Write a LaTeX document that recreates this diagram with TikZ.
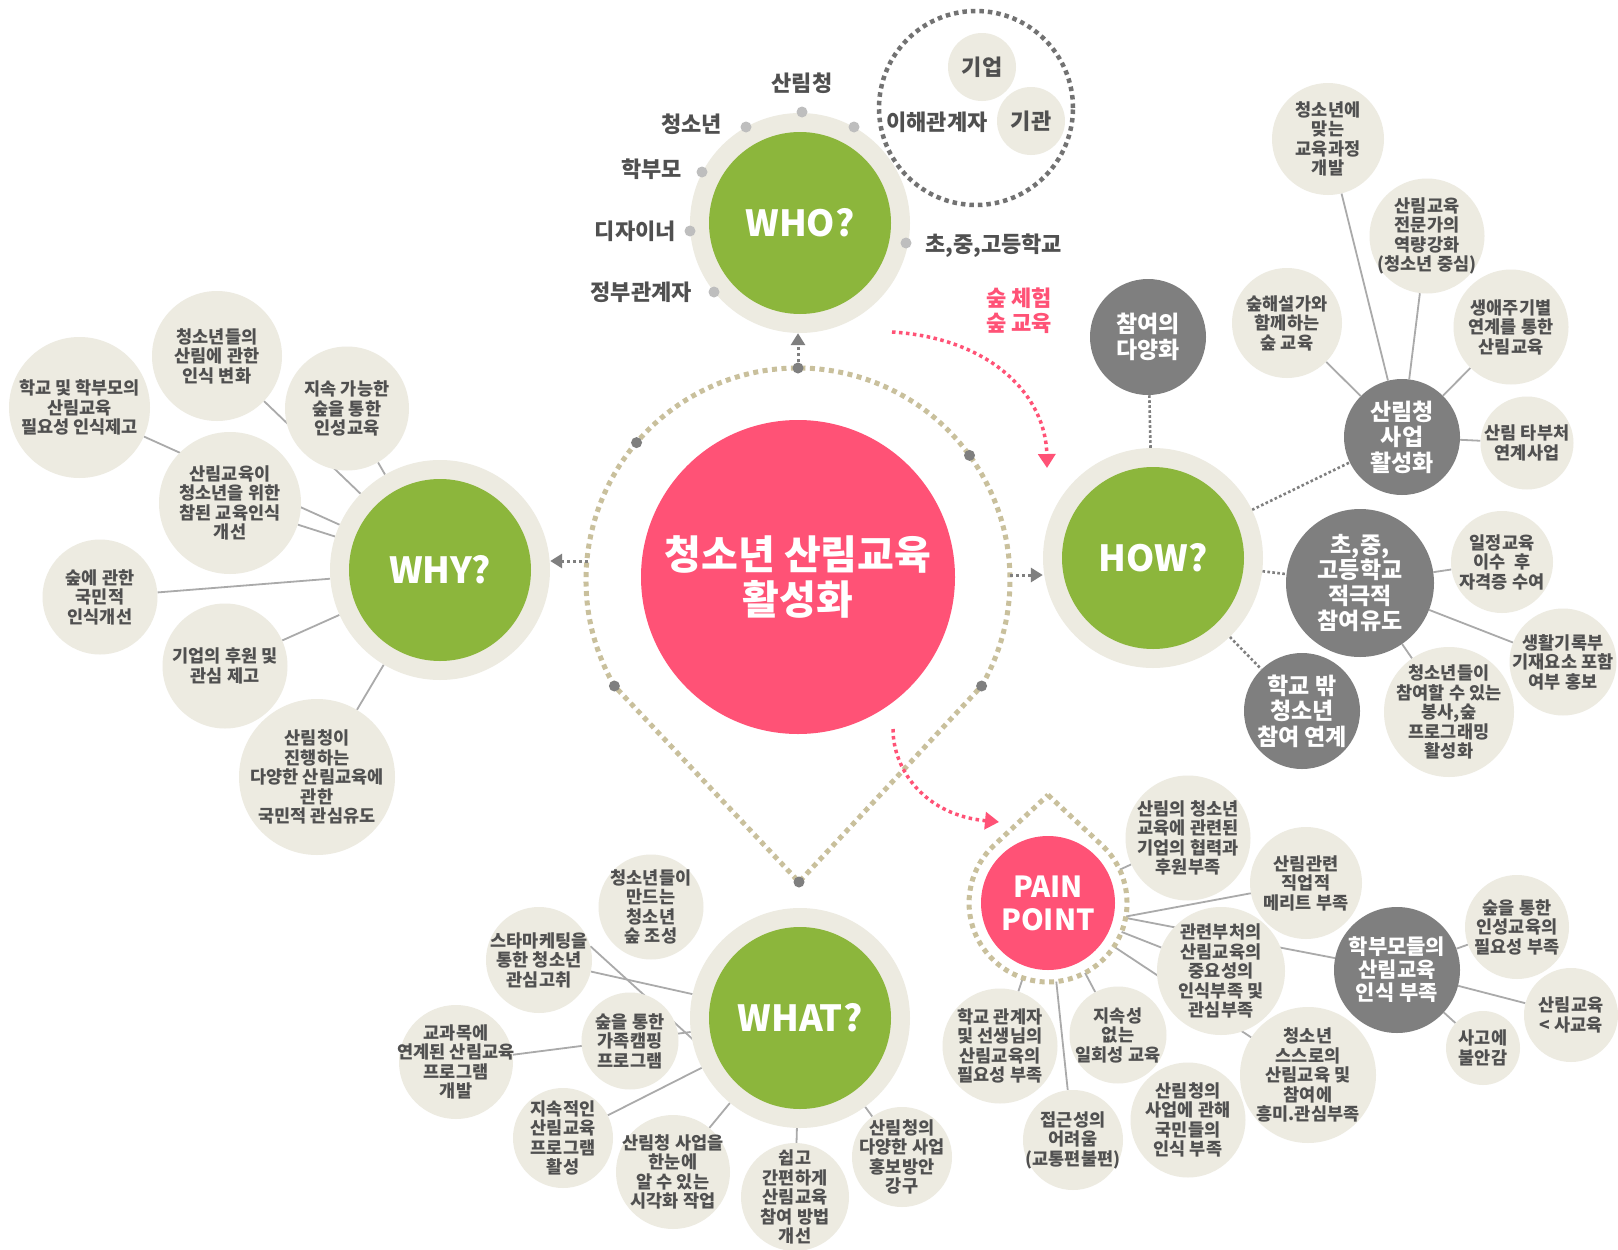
\documentclass[tikz,border=0pt]{standalone}
\usepackage{fontspec}
\setmainfont{Noto Sans CJK KR}
\usepackage{xcolor}
\usepackage{tikz}
\usetikzlibrary{arrows.meta, backgrounds}

\definecolor{leafgreen}{RGB}{140,182,60}
\definecolor{ringbeige}{RGB}{237,235,225}
\definecolor{hotpink}{RGB}{255,82,118}
\definecolor{stonegray}{RGB}{127,127,127}
\definecolor{inkgray}{RGB}{80,80,80}
\definecolor{wiregray}{RGB}{170,170,170}
\definecolor{sand}{RGB}{201,192,156}
\definecolor{paledot}{RGB}{190,190,190}

\newcommand{\hubfont}{\bfseries\fontsize{36}{40}\selectfont}
\newcommand{\leaffont}{\bfseries\fontsize{17.5}{19.5}\selectfont}
\newcommand{\stonefont}{\bfseries\fontsize{23}{25.5}\selectfont}
\newcommand{\tagfont}{\bfseries\fontsize{22}{24}\selectfont}

\begin{document}
\begin{tikzpicture}[
        x=1pt, y=-1pt,
        ring/.style={circle, fill=ringbeige, minimum size=220pt, inner sep=0pt},
        core/.style={circle, fill=leafgreen, minimum size=182pt, inner sep=0pt, text=white, font=\hubfont},
        blossom/.style={circle, fill=hotpink, inner sep=-60pt, align=center, text=white},
        leaf/.style={circle, fill=ringbeige, inner sep=-45pt, align=center, text=inkgray, font=\leaffont},
        stone/.style={circle, fill=stonegray, inner sep=-45pt, align=center, text=white, font=\stonefont},
        tag/.style={inner sep=0pt, text=inkgray, font=\tagfont},
        link/.style={draw=wiregray, line width=1.8pt},
        dotlink/.style={draw=stonegray, line width=2.6pt, dash pattern=on 2.6pt off 2.4pt},
        tear/.style={draw=sand, line width=5pt, dash pattern=on 5pt off 4.5pt},
        stakering/.style={draw=stonegray!90!black, line width=4.5pt, dash pattern=on 4.5pt off 4pt},
        arrow/.style={draw=stonegray, line width=3pt, dash pattern=on 3pt off 3pt, -{Triangle[length=12pt, width=14pt]}},
        pinkarrow/.style={draw=hotpink, line width=3.5pt, dash pattern=on 3.5pt off 3.5pt, -{Triangle[length=14pt, width=17pt]}}
    ]
    \useasboundingbox (0,0) rectangle (1618,1250);

    \draw[tear] (798,580) ++(210:212pt) arc[start angle=210, end angle=-30, radius=212pt] -- (799,882) -- cycle;
    \foreach \a in {90,139.6,36,210,330}
        \fill[stonegray] (798,580) ++(\a:212pt) circle[radius=5.5pt];
    \fill[stonegray] (799,882) circle[radius=5.5pt];
    \coordinate (tear-top) at (798,368);
    \coordinate (tear-left) at (588,561);
    \coordinate (tear-right) at (1010,575);

    \node[blossom, minimum size=314pt, font=\bfseries\fontsize{40}{45}\selectfont] (heart) at (798,577) {청소년 산림교육\\활성화};

    \node[ring] (who) at (800,223) {};
    \node[core] (who-c) at (who) {WHO?};
    \foreach \x/\y in {802/112, 746/127, 854/127, 702/172, 690/231, 714/292, 906/243}
        \fill[paledot] (\x,\y) circle[radius=5.5pt];
    \node[tag] (who-a) at (802,83) {산림청};
    \node[tag, anchor=east] (who-b) at (722,124) {청소년};
    \node[tag, anchor=east] (who-d) at (682,169) {학부모};
    \node[tag, anchor=east] (who-e) at (676,231) {디자이너};
    \node[tag, anchor=east] (who-f) at (692,292) {정부관계자};
    \node[tag, anchor=west] (who-g) at (925,246) {초,중,고등학교};
    \draw[stakering] (976,108) circle[radius=97pt];
    \node[leaf, minimum size=68pt, inner sep=-8pt, font=\tagfont] (firm) at (982,67) {기업};
    \node[leaf, minimum size=68pt, inner sep=-8pt, font=\tagfont] (inst) at (1031,121) {기관};
    \node[tag] (stake) at (937,122) {이해관계자};

    \node[ring] (why) at (440,570) {};
    \node[core] (why-c0) at (why) {WHY?};
    \node[leaf, minimum size=141pt] (why-a) at (79.5,407.5) {학교 및 학부모의\\산림교육\\필요성 인식제고};
    \node[leaf, minimum size=130pt] (why-b) at (217,356) {청소년들의\\산림에 관한\\인식 변화};
    \node[leaf, minimum size=124pt] (why-c) at (347,408.5) {지속 가능한\\숲을 통한\\인성교육};
    \node[leaf, minimum size=142pt] (why-d) at (230,503) {산림교육이\\청소년을 위한\\참된 교육인식\\개선};
    \node[leaf, minimum size=115pt] (why-e) at (100,597) {숲에 관한\\국민적\\인식개선};
    \node[leaf, minimum size=125pt] (why-f) at (225,666) {기업의 후원 및\\관심 제고};
    \node[leaf, minimum size=156pt] (why-g) at (317,777) {산림청이\\진행하는\\다양한 산림교육에\\관한\\국민적 관심유도};

    \node[ring] (how) at (1153,558) {};
    \node[core] (how-c0) at (how) {HOW?};
    \node[stone, minimum size=116pt] (how-a) at (1148,337) {참여의\\다양화};
    \node[stone, minimum size=116pt] (how-b) at (1402,437) {산림청\\사업\\활성화};
    \node[stone, minimum size=148pt] (how-c) at (1360,583) {초,중,\\고등학교\\적극적\\참여유도};
    \node[stone, minimum size=116pt] (how-d) at (1302,711) {학교 밖\\청소년\\참여 연계};
    \node[leaf, minimum size=112pt] (biz-a) at (1328,139) {청소년에\\맞는\\교육과정\\개발};
    \node[leaf, minimum size=115pt] (biz-b) at (1427,236) {산림교육\\전문가의\\역량강화\\(청소년 중심)};
    \node[leaf, minimum size=110pt] (biz-c) at (1287,323) {숲해설가와\\함께하는\\숲 교육};
    \node[leaf, minimum size=115pt] (biz-d) at (1511,327) {생애주기별\\연계를 통한\\산림교육};
    \node[leaf, minimum size=93pt] (biz-e) at (1527,443) {산림 타부처\\연계사업};
    \node[leaf, minimum size=102pt] (sch-a) at (1502,562) {일정교육\\이수\ \ 후\\자격증 수여};
    \node[leaf, minimum size=107pt] (sch-b) at (1563,662) {생활기록부\\기재요소 포함\\여부 홍보};
    \node[leaf, minimum size=130pt] (sch-c) at (1449,712) {청소년들이\\참여할 수 있는\\봉사,숲\\프로그래밍\\활성화};

    \node[text=hotpink, align=center, font=\bfseries\fontsize{22}{25}\selectfont] (forest) at (1019,311) {숲 체험\\숲 교육};

    \filldraw[tear, fill=white] (1048,795) -- (1101.9,845.2) arc[start angle=47, end angle=-227, radius=79pt] -- cycle;
    \node[blossom, minimum size=134pt, inner sep=-20pt, font=\bfseries\fontsize{29}{33}\selectfont] (pain) at (1048,903) {PAIN\\POINT};
    \node[leaf, minimum size=125pt] (pp-a) at (1188,838) {산림의 청소년\\교육에 관련된\\기업의 협력과\\후원부족};
    \node[leaf, minimum size=112pt] (pp-b) at (1306,883) {산림관련\\직업적\\메리트 부족};
    \node[leaf, minimum size=128pt] (pp-c) at (1221,971) {관련부처의\\산림교육의\\중요성의\\인식부족 및\\관심부족};
    \node[stone, minimum size=126pt, font=\bfseries\fontsize{21}{23}\selectfont] (pp-d) at (1397,970) {학부모들의\\산림교육\\인식 부족};
    \node[leaf, minimum size=104pt] (pp-e) at (1517,927) {숲을 통한\\인성교육의\\필요성 부족};
    \node[leaf, minimum size=94pt] (pp-f) at (1571,1015) {산림교육\\< 사교육};
    \node[leaf, minimum size=74pt] (pp-g) at (1483,1048) {사고에\\불안감};
    \node[leaf, minimum size=136pt] (pp-h) at (1308,1075) {청소년\\스스로의\\산림교육 및\\참여에\\흥미.관심부족};
    \node[leaf, minimum size=115pt] (pp-i) at (1000,1046) {학교 관계자\\및 선생님의\\산림교육의\\필요성 부족};
    \node[leaf, minimum size=97pt] (pp-j) at (1118,1035) {지속성\\없는\\일회성 교육};
    \node[leaf, minimum size=100pt] (pp-k) at (1073,1140) {접근성의\\어려움\\(교통편불편)};
    \node[leaf, minimum size=115pt] (pp-l) at (1188,1120) {산림청의\\사업에 관해\\국민들의\\인식 부족};

    \node[ring] (what) at (800,1018) {};
    \node[core] (what-c0) at (what) {WHAT?};
    \node[leaf, minimum size=105pt] (wt-a) at (651,907) {청소년들이\\만드는\\청소년\\숲 조성};
    \node[leaf, minimum size=106pt] (wt-b) at (539,960) {스타마케팅을\\통한 청소년\\관심고취};
    \node[leaf, minimum size=97pt] (wt-c) at (630,1041) {숲을 통한\\가족캠핑\\프로그램};
    \node[leaf, minimum size=114pt] (wt-d) at (456,1062) {교과목에\\연계된 산림교육\\프로그램\\개발};
    \node[leaf, minimum size=100pt] (wt-e) at (563,1138) {지속적인\\산림교육\\프로그램\\활성};
    \node[leaf, minimum size=114pt] (wt-f) at (673,1172) {산림청 사업을\\한눈에\\알 수 있는\\시각화 작업};
    \node[leaf, minimum size=108pt] (wt-g) at (795,1197) {쉽고\\간편하게\\산림교육\\참여 방법\\개선};
    \node[leaf, minimum size=100pt] (wt-h) at (902,1157) {산림청의\\다양한 사업\\홍보방안\\강구};

    \draw[arrow] (tear-top) -- (tear-top |- who.south);
    \draw[arrow] (tear-left) -- (tear-left -| why.east);
    \draw[arrow] (tear-right) -- (tear-right -| how.west);
    \draw[pinkarrow] (892,332) .. controls (990,338) and (1046,395) .. (1047,468);
    \draw[pinkarrow] (893,729) .. controls (893,770) and (925,815) .. (999,822);

    \begin{pgfonlayer}{background}
        \fill[white] (0,0) rectangle (1618,1250);
        \foreach \n in {why-a,why-b,why-c,why-d,why-e,why-f,why-g}
            \draw[link] (why) -- (\n);
        \foreach \n in {how-a,how-b,how-c,how-d}
            \draw[dotlink] (how) -- (\n);
        \foreach \n in {biz-a,biz-b,biz-c,biz-d,biz-e}
            \draw[link] (how-b) -- (\n);
        \foreach \n in {sch-a,sch-b,sch-c}
            \draw[link] (how-c) -- (\n);
        \foreach \n in {pp-a,pp-c,pp-d,pp-h,pp-i,pp-j,pp-k}
            \draw[link] (pain) -- (\n);
        \draw[link] ([yshift=-28pt]pain.center) -- (pp-b);
        \foreach \n in {pp-e,pp-f,pp-g}
            \draw[link] (pp-d) -- (\n);
        \foreach \n in {wt-b,wt-d,wt-e,wt-f,wt-g,wt-h}
            \draw[link] (what) -- (\n);
        \draw[link] (wt-b.15) -- ([xshift=-80pt,yshift=-46pt]what.center);
    \end{pgfonlayer}
\end{tikzpicture}
\end{document}
